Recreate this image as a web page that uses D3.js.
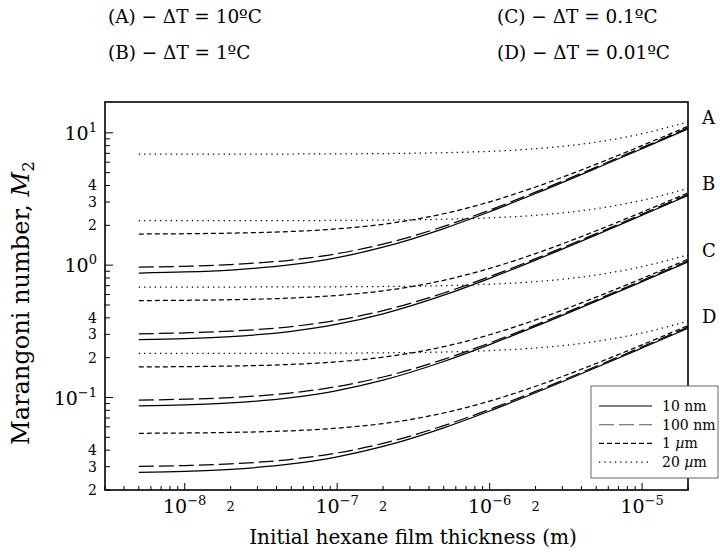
<!DOCTYPE html>
<html><head><meta charset="utf-8">
<script src="https://cdn.jsdelivr.net/npm/d3@7"></script>
<style>
body{margin:0;background:#fff}
svg{display:block}
text{font-family:"DejaVu Serif","Liberation Serif",serif;fill:#000}
</style>
</head><body>
<svg id="chart" width="720" height="552"></svg>
<script>
// Film thickness sample points (m)
const thickness = [5e-9,1e-8,2e-8,5e-8,1e-7,2e-7,5e-7,1e-6,2e-6,5e-6,1e-5,2e-5];

// Group A: ΔT = 10 °C
const A_10nm  = [0.872,0.888,0.919,1.008,1.140,1.367,1.891,2.534,3.480,5.402,7.591,10.70];
const A_100nm = [0.965,0.981,1.010,1.094,1.222,1.443,1.963,2.608,3.564,5.513,7.739,10.90];
const A_1um   = [1.719,1.728,1.746,1.797,1.881,2.037,2.447,3.009,3.897,5.794,8.014,11.20];
const A_20um  = [6.902,6.904,6.907,6.918,6.936,6.971,7.077,7.249,7.583,8.505,9.851,12.10];
// Group B: ΔT = 1 °C
const B_10nm  = [0.2738,0.2788,0.2886,0.3165,0.3580,0.4292,0.5938,0.7957,1.0927,1.696,2.384,3.360];
const B_100nm = [0.3030,0.3080,0.3171,0.3435,0.3837,0.4531,0.6164,0.8189,1.1191,1.731,2.430,3.423];
const B_1um   = [0.5398,0.5426,0.5482,0.5643,0.5906,0.6396,0.7684,0.9448,1.2237,1.819,2.516,3.517];
const B_20um  = [2.167,2.168,2.169,2.172,2.178,2.189,2.222,2.276,2.381,2.671,3.093,3.799];
// Group C: ΔT = 0.1 °C
const C_10nm  = [0.0863,0.0879,0.0910,0.0998,0.1129,0.1353,0.1872,0.2509,0.3445,0.5348,0.7515,1.059];
const C_100nm = [0.0955,0.0971,0.1000,0.1083,0.1210,0.1429,0.1943,0.2582,0.3528,0.5458,0.7662,1.079];
const C_1um   = [0.1702,0.1711,0.1729,0.1779,0.1862,0.2017,0.2423,0.2979,0.3858,0.5736,0.7934,1.109];
const C_20um  = [0.6833,0.6835,0.6838,0.6849,0.6867,0.6901,0.7006,0.7177,0.7507,0.8420,0.9752,1.198];
// Group D: ΔT = 0.01 °C
const D_10nm  = [0.02721,0.02771,0.02867,0.03145,0.03557,0.04265,0.05900,0.07906,0.1086,0.1685,0.2368,0.3338];
const D_100nm = [0.03011,0.03061,0.03151,0.03413,0.03813,0.04502,0.06125,0.08137,0.1112,0.1720,0.2415,0.3401];
const D_1um   = [0.05363,0.05391,0.05448,0.05607,0.05869,0.06355,0.07635,0.09388,0.1216,0.1808,0.2500,0.3494];
const D_20um  = [0.2153,0.2154,0.2155,0.2158,0.2164,0.2175,0.2208,0.2262,0.2366,0.2654,0.3073,0.3775];

const groupNames = ["A","B","C","D"];
const groupTitles = ["(A) − ΔT = 10ºC","(B) − ΔT = 1ºC","(C) − ΔT = 0.1ºC","(D) − ΔT = 0.01ºC"];
const dropSizes = ["10 nm","100 nm","1 µm","20 µm"];
const groupSeries = [
  [A_10nm,A_100nm,A_1um,A_20um],
  [B_10nm,B_100nm,B_1um,B_20um],
  [C_10nm,C_100nm,C_1um,C_20um],
  [D_10nm,D_100nm,D_1um,D_20um]
];

const xMajorTicks = [1e-8,1e-7,1e-6,1e-5];
const xMajorExp = ["−8","−7","−6","−5"];
const xMinorLabelTicks = [2e-8,2e-7,2e-6];
const xMinorLabels = ["2","2","2"];
const yMajorTicks = [0.1,1,10];
const yMajorExp = ["−1","0","1"];
const yMinorLabelTicks = [0.02,0.03,0.04,0.2,0.3,0.4,2,3,4];
const yMinorLabels = ["2","3","4","2","3","4","2","3","4"];

const svg = d3.select("#chart");
const x = d3.scaleLog().domain([3e-9,2e-5]).range([105,688]);
const y = d3.scaleLog().domain([0.02,17.1]).range([490,102]);

const dashStyles = [null,"15,5","5,3","1.3,4"];

function fitWidth(sel, target){
  const w = sel.node().getComputedTextLength();
  const fs = parseFloat(sel.style("font-size"));
  const nfs = w > 0 ? fs*target/w : fs;
  sel.style("font-size", nfs.toFixed(2)+"px");
  return nfs;
}

// curves
const line = d3.line().x(d=>x(d[0])).y(d=>y(d[1])).curve(d3.curveMonotoneX);
const plot = svg.append("g");
groupSeries.forEach(series=>{
  series.forEach((vals,i)=>{
    plot.append("path")
      .datum(thickness.map((t,k)=>[t,vals[k]]))
      .attr("d",line)
      .attr("fill","none")
      .attr("stroke","#000")
      .attr("stroke-width",1.25)
      .attr("stroke-dasharray",dashStyles[i]);
  });
});

// frame
svg.append("rect").attr("x",105).attr("y",102).attr("width",583).attr("height",388)
  .attr("fill","none").attr("stroke","#000").attr("stroke-width",1.6);

// x ticks (inward)
const xAll = x.ticks();
svg.append("g").selectAll("line").data(xAll).join("line")
  .attr("x1",d=>x(d)).attr("x2",d=>x(d))
  .attr("y1",490).attr("y2",d=> xMajorTicks.includes(d) ? 483 : 486)
  .attr("stroke","#000").attr("stroke-width",1);
// y ticks (inward)
const yAll = y.ticks();
svg.append("g").selectAll("line").data(yAll).join("line")
  .attr("y1",d=>y(d)).attr("y2",d=>y(d))
  .attr("x1",105).attr("x2",d=> yMajorTicks.includes(d) ? 113 : 110)
  .attr("stroke","#000").attr("stroke-width",1);

// x labels
xMajorTicks.forEach((t,i)=>{
  const tx = svg.append("text").attr("x",x(t)).attr("y",513).attr("text-anchor","middle").style("font-size","19px");
  tx.append("tspan").text("10");
  tx.append("tspan").attr("dy",-8).style("font-size","13px").text(xMajorExp[i]);
});
xMinorLabelTicks.forEach((t,i)=>{
  svg.append("text").attr("x",x(t)).attr("y",511).attr("text-anchor","middle").style("font-size","13px").text(xMinorLabels[i]);
});
// y labels
yMajorTicks.forEach((t,i)=>{
  const tx = svg.append("text").attr("x",97).attr("y",y(t)+7).attr("text-anchor","end").style("font-size","19px");
  tx.append("tspan").text("10");
  tx.append("tspan").attr("dy",-8).style("font-size","13px").text(yMajorExp[i]);
});
yMinorLabelTicks.forEach((t,i)=>{
  svg.append("text").attr("x",97).attr("y",y(t)+5).attr("text-anchor","end").style("font-size","14px").text(yMinorLabels[i]);
});

// axis titles
const xt = svg.append("text").attr("x",413).attr("y",544).attr("text-anchor","middle").style("font-size","20px")
  .text("Initial hexane film thickness (m)");
fitWidth(xt, 328);
const yt = svg.append("text").attr("transform","translate(29,303) rotate(-90)").attr("text-anchor","middle").style("font-size","20px");
yt.append("tspan").text("Marangoni number, ");
yt.append("tspan").style("font-style","italic").text("M");
const ySub = yt.append("tspan").attr("dy",5).style("font-size","14px").text("2");
const yFs = fitWidth(yt, 284);
ySub.style("font-size",(yFs*0.7).toFixed(2)+"px");

// group labels at right
groupSeries.forEach((series,g)=>{
  const last = series[3][series[3].length-1];
  svg.append("text").attr("x",702).attr("y",y(last)+2).style("font-size","18px").text(groupNames[g]);
});

// top titles
const titlePos = [[108,23],[108,59],[497,23],[497,59]];
let topFs = 17;
groupTitles.forEach((t,i)=>{
  const tt = svg.append("text").attr("x",titlePos[i][0]).attr("y",titlePos[i][1]).style("font-size",topFs+"px").text(t);
  if (i===0) topFs = fitWidth(tt, 154);
});

// legend
const lg = svg.append("g");
lg.append("rect").attr("x",591).attr("y",386).attr("width",127).attr("height",92)
  .attr("fill","#fff").attr("stroke","#666").attr("stroke-width",1);
dropSizes.forEach((s,i)=>{
  const yy = 406 + i*18.7;
  lg.append("line").attr("x1",599).attr("x2",652).attr("y1",yy).attr("y2",yy)
    .attr("stroke", i===1 ? "#555" : "#000").attr("stroke-width",1.1).attr("stroke-dasharray",dashStyles[i]);
  const tx = lg.append("text").attr("x",662).attr("y",yy+5).style("font-size","14px");
  const parts = s.split(" ");
  tx.append("tspan").text(parts[0]+" ");
  if (parts[1]==="µm") {
    tx.append("tspan").style("font-style","italic").text("µ");
    tx.append("tspan").text("m");
  } else tx.append("tspan").text(parts[1]);
});
</script>
</body></html>
